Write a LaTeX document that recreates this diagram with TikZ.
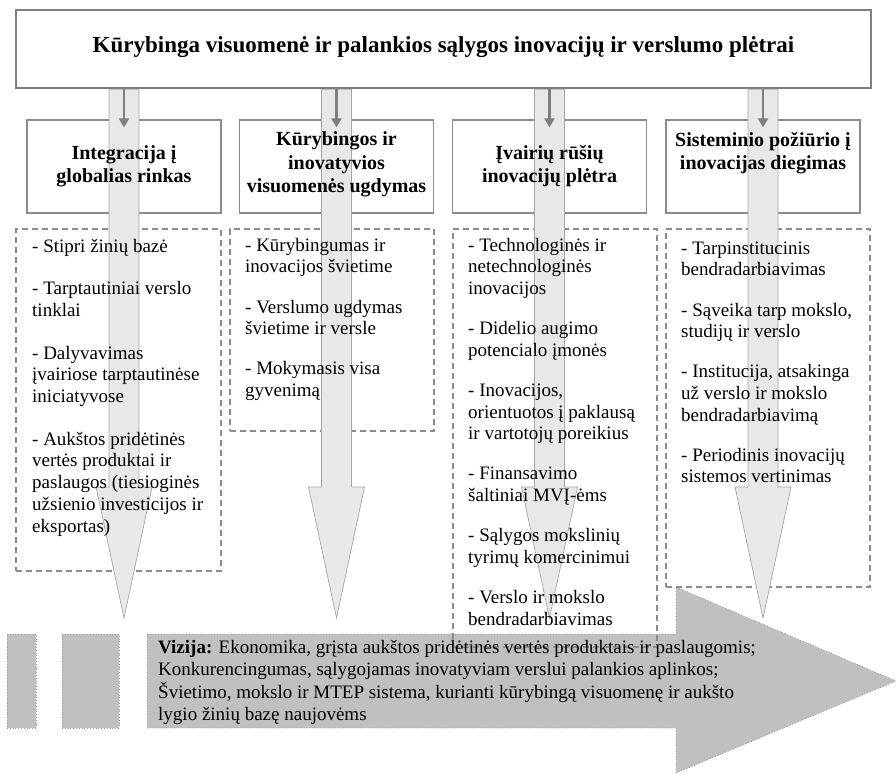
\documentclass[tikz,border=0pt]{standalone}
\usepackage{fontspec}
\setmainfont{Liberation Serif}
\usetikzlibrary{arrows.meta}

\definecolor{frame}{HTML}{7F7F7F}
\definecolor{edge}{HTML}{8C8C8C}
\definecolor{shaftfill}{HTML}{E8E8E8}
\definecolor{shaftline}{HTML}{A6A6A6}
\definecolor{visionfill}{HTML}{C0C0C0}
\definecolor{visionline}{HTML}{9A9A9A}

\tikzset{
  titlebox/.style={draw=frame, line width=2.6pt, inner sep=0pt,
    minimum width=855pt, minimum height=78pt},
  headbox/.style={draw=edge, line width=1.2pt, inner sep=0pt,
    minimum width=194pt, minimum height=93pt},
  listbox/.style={draw=edge, line width=1.2pt, dash pattern=on 6pt off 4pt,
    inner sep=0pt},
  visionbox/.style={fill=visionfill, draw=visionline, line width=0.8pt,
    dotted, inner sep=0pt},
  shaftstyle/.style={fill=shaftfill, draw=shaftline, line width=0.7pt},
  feed/.style={draw=frame, line width=2.2pt,
    -{Triangle[length=9pt,width=10pt]}},
  titletext/.style={font=\fontsize{23}{27}\selectfont\bfseries, inner sep=0pt},
  headtext/.style={font=\fontsize{20}{23.5}\selectfont\bfseries,
    align=center, inner sep=0pt, anchor=north},
  listtext/.style={font=\fontsize{19}{21.6}\selectfont, align=left,
    inner sep=0pt, anchor=north west},
  widelist/.style={font=\fontsize{19}{21.8}\selectfont},
  visiontext/.style={font=\fontsize{19}{22.5}\selectfont, align=left,
    inner sep=0pt, anchor=north west},
}

\newcommand{\itemgap}{\\[18.6pt]}
\newcommand{\wideitemgap}{\\[20.6pt]}

\begin{document}
\begin{tikzpicture}[x=1pt, y=-1pt]
\useasboundingbox (0,0) rectangle (896,773);

% vision arrow and the two blocks in front of it
\draw[visionbox] (147,634) -- (676,634) -- (676,587) -- (896,681)
  -- (676,773) -- (676,728) -- (147,728) -- cycle;
\node[visionbox, minimum width=29pt, minimum height=94pt] (r1) at (21.5,681) {};
\node[visionbox, minimum width=57pt, minimum height=94pt] (r2) at (90.5,681) {};

% frames
\node[titlebox] (top) at (443.5,49) {};
\node[headbox] (h1) at (124,166.5) {};
\node[headbox] (h2) at (336.5,166.5) {};
\node[headbox] (h3) at (549.5,166.5) {};
\node[headbox] (h4) at (763,166.5) {};

\node[listbox, minimum width=205pt, minimum height=342pt] (l1) at (118.5,400) {};
\node[listbox, minimum width=204pt, minimum height=202pt] (l2) at (332,330) {};
\node[listbox, minimum width=204pt, minimum height=418pt] (l3) at (555,438) {};
\node[listbox, minimum width=204pt, minimum height=358pt] (l4) at (768,408) {};

% wide downward arrows
\foreach \cx in {124,336.5,549.5,763}
  \draw[shaftstyle] (\cx-15,89.4) -- (\cx-15,487) -- (\cx-28,487) -- (\cx,618)
    -- (\cx+28,487) -- (\cx+15,487) -- (\cx+15,89.4) -- cycle;

% short connectors from the title frame
\foreach \n in {h1,h2,h3,h4}
  \draw[feed] (\n.north |- top.south) -- ([yshift=-8pt]\n.north);

% texts
\node[titletext, anchor=base] (tt) at (443.5,53)
  {Kūrybinga visuomenė ir palankios sąlygos inovacijų ir verslumo plėtrai};

\node[headtext] (ht1) at (124,142.5) {\strut Integracija į\\globalias rinkas};
\node[headtext] (ht2) at (336.5,129) {\strut Kūrybingos ir\\inovatyvios\\visuomenės ugdymas};
\node[headtext] (ht3) at (549.5,142.5) {\strut Įvairių rūšių\\inovacijų plėtra};
\node[headtext] (ht4) at (763,129.5) {\strut Sisteminio požiūrio į\\inovacijas diegimas};

\node[listtext, widelist] (lt1) at (32,237) {\strut - Stipri žinių bazė\wideitemgap
  - Tarptautiniai verslo\\tinklai\wideitemgap
  - Dalyvavimas\\įvairiose tarptautinėse\\iniciatyvose\wideitemgap
  - Aukštos pridėtinės\\vertės produktai ir\\paslaugos (tiesioginės\\užsienio investicijos ir\\eksportas)};

\node[listtext] (lt2) at (245,236) {\strut - Kūrybingumas ir\\inovacijos švietime\itemgap
  - Verslumo ugdymas\\švietime ir versle\itemgap
  - Mokymasis visa\\gyvenimą};

\node[listtext] (lt3) at (468,236) {\strut - Technologinės ir\\netechnologinės\\inovacijos\itemgap
  - Didelio augimo\\potencialo įmonės\itemgap
  - Inovacijos,\\orientuotos į paklausą\\ir vartotojų poreikius\itemgap
  - Finansavimo\\šaltiniai MVĮ-ėms\itemgap
  - Sąlygos mokslinių\\tyrimų komercinimui\itemgap
  - Verslo ir mokslo\\bendradarbiavimas};

\node[listtext] (lt4) at (681,239) {\strut - Tarpinstitucinis\\bendradarbiavimas\itemgap
  - Sąveika tarp mokslo,\\studijų ir verslo\itemgap
  - Institucija, atsakinga\\už verslo ir mokslo\\bendradarbiavimą\itemgap
  - Periodinis inovacijų\\sistemos vertinimas};

\node[visiontext] (vt) at (158,637.3) {\strut\textbf{Vizija:} Ekonomika, grįsta aukštos pridėtinės vertės produktais ir paslaugomis;\\
  Konkurencingumas, sąlygojamas inovatyviam verslui palankios aplinkos;\\
  Švietimo, mokslo ir MTEP sistema, kurianti kūrybingą visuomenę ir aukšto\\
  lygio žinių bazę naujovėms};
\end{tikzpicture}
\end{document}
